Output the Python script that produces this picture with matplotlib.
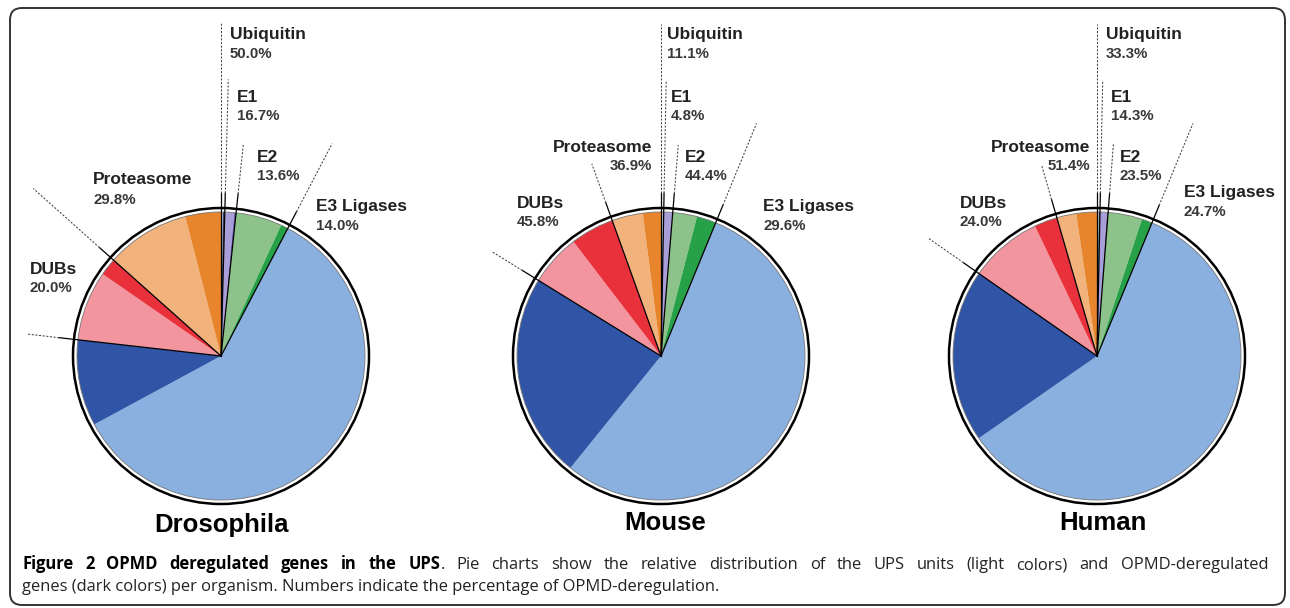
import numpy as np
import matplotlib.pyplot as plt
from matplotlib.patches import Circle, FancyBboxPatch

# UPS units, clockwise from 12 o'clock
units = ['Ubiquitin', 'E1', 'E2', 'E3 Ligases', 'DUBs', 'Proteasome']
organisms = ['Drosophila', 'Mouse', 'Human']

# share of each unit in the organism's UPS (%)
share_dros = [0.42, 1.25, 6.0, 69.1, 9.8, 13.4]
share_mouse = [0.3, 1.0, 4.9, 77.6, 10.7, 5.5]
share_human = [0.33, 0.9, 5.0, 78.5, 10.8, 4.5]

# % of OPMD-deregulated genes inside each unit
dereg_dros = [50.0, 16.7, 13.6, 14.0, 20.0, 29.8]
dereg_mouse = [11.1, 4.8, 44.4, 29.6, 45.8, 36.9]
dereg_human = [33.3, 14.3, 23.5, 24.7, 24.0, 51.4]

light = ['#c4c4dc', '#a99fd8', '#8dc28a', '#89b0df', '#f3959f', '#f1b27c']
dark = ['#3b3d63', '#6c5cb4', '#27a148', '#3055a6', '#e9313b', '#e6852c']

caption_bold = 'Figure 2 OPMD deregulated genes in the UPS'
caption_rest = ('. Pie charts show the relative distribution of the UPS units (light colors) '
                'and OPMD-deregulated')
caption_line2 = 'genes (dark colors) per organism. Numbers indicate the percentage of OPMD-deregulation.'

W, H = 1290, 608
R_PIE, R_RING = 144, 148

# layout (pixels, y measured from the top)
centers = [(221, 356), (661, 356), (1097, 356)]
title_pos = [(222, 525), (665, 523), (1103, 523)]
label_pos = [
    [(230, 34, 'left'), (237, 97, 'left'), (257, 157, 'left'), (316, 207, 'left'), (30, 269, 'left'), (93, 180, 'left')],
    [(667, 34, 'left'), (671, 97, 'left'), (685, 157, 'left'), (763, 207, 'left'), (517, 203, 'left'), (652, 147, 'right')],
    [(1106, 34, 'left'), (1111, 97, 'left'), (1120, 157, 'left'), (1184, 193, 'left'), (960, 203, 'left'), (1090, 147, 'right')],
]
# how far each unit boundary's leader runs (in ring radii)
leader_len = [
    [2.26, 1.87, 1.44, 1.62, 1.32, 1.70],
    [2.24, 1.86, 1.43, 1.70, 1.34, 1.38],
    [2.24, 1.86, 1.44, 1.70, 1.39, 1.34],
]

shares = [share_dros, share_mouse, share_human]
deregs = [dereg_dros, dereg_mouse, dereg_human]

fig = plt.figure(figsize=(W / 100, H / 100), dpi=100)
ax = fig.add_axes([0, 0, 1, 1])
ax.set_xlim(0, W)
ax.set_ylim(0, H)

lab_font = ['Liberation Sans', 'DejaVu Sans']
pct_font = ['Liberation Sans Narrow', 'Liberation Sans', 'DejaVu Sans']

for i in range(3):
    cx, cy = centers[i]
    cy = H - cy
    share = np.array(shares[i])
    dereg = np.array(deregs[i]) / 100
    vals, cols = [], []
    for k in range(len(units)):
        vals += [share[k] * (1 - dereg[k]), share[k] * dereg[k]]
        cols += [light[k], dark[k]]
    ax.pie(vals, colors=cols, startangle=90, counterclock=False,
           center=(cx, cy), radius=R_PIE,
           wedgeprops=dict(edgecolor='none', linewidth=0))
    ax.add_patch(Circle((cx, cy), R_PIE, fill=False, ec='#777777', lw=0.6))
    ax.add_patch(Circle((cx, cy), R_RING, fill=False, ec='black', lw=1.8))

    # unit boundaries: solid from the centre, dotted out to the labels
    starts = np.concatenate([[0], np.cumsum(share)[:-1]]) / share.sum() * 360
    for k, ang in enumerate(starts):
        dx, dy = np.sin(np.radians(ang)), np.cos(np.radians(ang))
        r1 = R_RING * 1.1
        r2 = R_RING * leader_len[i][k]
        ax.plot([cx, cx + r1 * dx], [cy, cy + r1 * dy], color='black', lw=0.9)
        ax.plot([cx + r1 * dx, cx + r2 * dx], [cy + r1 * dy, cy + r2 * dy],
                color='#444444', lw=0.75, ls=(0, (2, 1.5)))

    for k, name in enumerate(units):
        lx, ly, ha = label_pos[i][k]
        ax.text(lx, H - ly, name, ha=ha, va='center', fontsize=12.5,
                fontweight='bold', family=lab_font, color='#222222')
        ax.text(lx, H - ly - 19.5, f'{deregs[i][k]:.1f}%', ha=ha, va='center',
                fontsize=10.8, fontweight='bold', family=pct_font, color='#383838')

    tx, ty = title_pos[i]
    ax.text(tx, H - ty, organisms[i], ha='center', va='center', fontsize=18.5,
            fontweight='bold', family=lab_font, color='black')

# caption, first line justified between the frame margins
cap_font = ['Open Sans', 'DejaVu Sans']
cap_size = 11.9
x_left, x_right = 22, 1268
tokens = [(w, 'bold', True) for w in caption_bold.split()]
rest = caption_rest.split()
tokens.append((rest[0], 'normal', False))          # the full stop sticks to "UPS"
tokens += [(w, 'normal', True) for w in rest[1:]]

renderer = fig.canvas.get_renderer()
widths = []
for txt, wt, _ in tokens:
    t = ax.text(0, 0, txt, fontsize=cap_size, fontweight=wt, family=cap_font)
    widths.append(t.get_window_extent(renderer).width)
    t.remove()
n_gaps = sum(1 for tok in tokens[1:] if tok[2])
gap = (x_right - x_left - sum(widths)) / n_gaps
x = x_left
for (txt, wt, spaced), w in zip(tokens, widths):
    if spaced and x > x_left:
        x += gap
    ax.text(x, H - 569, txt, ha='left', va='baseline', fontsize=cap_size, fontweight=wt,
            family=cap_font, color='black' if wt == 'bold' else '#222222')
    x += w
ax.text(x_left, H - 591, caption_line2, ha='left', va='baseline', fontsize=cap_size,
        family=cap_font, color='#222222')

# rounded frame around the figure
ax.add_patch(FancyBboxPatch((10, 3), 1275, 597, boxstyle='round,pad=0,rounding_size=12',
                            fill=False, ec='#333333', lw=1.4))

ax.set_xlim(0, W)
ax.set_ylim(0, H)
ax.set_aspect('equal')
ax.axis('off')

fig.savefig('out.png', dpi=100)
